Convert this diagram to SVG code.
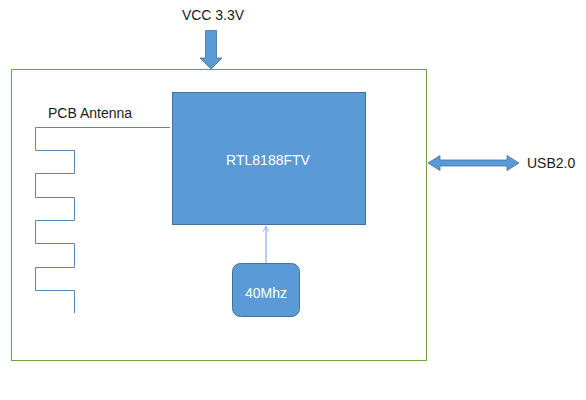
<svg xmlns="http://www.w3.org/2000/svg" width="586" height="400" viewBox="0 0 586 400">
<style>
text{font-family:"Liberation Sans","Open Sans",Arial,sans-serif;font-size:14px}
.dark{fill:#1a1a1a}
.light{fill:#ffffff}
.blk{fill:#5B9BD5;stroke:#41719C;stroke-width:1}
.arrow{fill:#5B9BD5;stroke:#41719C;stroke-width:0.8}
.ant{fill:none;stroke:#5A86B0;stroke-width:1}
</style>
<defs>
<marker id="open" viewBox="0 0 10 10" refX="9" refY="5" markerWidth="7" markerHeight="7" orient="auto" markerUnits="userSpaceOnUse">
<path d="M1,1 L9,5 L1,9" fill="none" stroke="#8EB4E3" stroke-width="1.3"/>
</marker>
</defs>
<rect width="586" height="400" fill="#ffffff"/>
<g id="board">
<rect x="11.5" y="69.5" width="415" height="291" fill="none" stroke="#70A047" stroke-width="1"/>
</g>
<g id="vcc">
<text x="213" y="20" text-anchor="middle" class="dark">VCC 3.3V</text>
<path class="arrow" d="M205.5,30.5 H216.5 V58 H222 L211,69 L200,58 H205.5 Z"/>
</g>
<g id="usb">
<path class="arrow" d="M428,163 L440,155.5 V160 H507 V155.5 L519,163 L507,170.5 V166 H440 V170.5 Z"/>
<text x="527" y="168" class="dark">USB2.0</text>
</g>
<g id="antenna">
<text x="48" y="118" class="dark">PCB Antenna</text>
<path class="ant" d="M170,127.5 H35.5 V150.5 H74.5 V173.5 H35.5 V197.5 H74.5 V220.5 H35.5 V243.5 H74.5 V267.5 H35.5 V290.5 H74.5 V313"/>
</g>
<g id="chip">
<rect class="blk" x="172.5" y="92.5" width="193" height="132"/>
<text x="268" y="165" text-anchor="middle" class="light">RTL8188FTV</text>
</g>
<g id="xtal">
<rect class="blk" x="232.5" y="263.5" width="67" height="53" rx="8" ry="8"/>
<text x="266" y="298" text-anchor="middle" class="light">40Mhz</text>
</g>
<g id="connectors">
<line x1="266" y1="263" x2="266" y2="226" stroke="#8EB4E3" stroke-width="1.3" marker-end="url(#open)"/>
</g>
</svg>
